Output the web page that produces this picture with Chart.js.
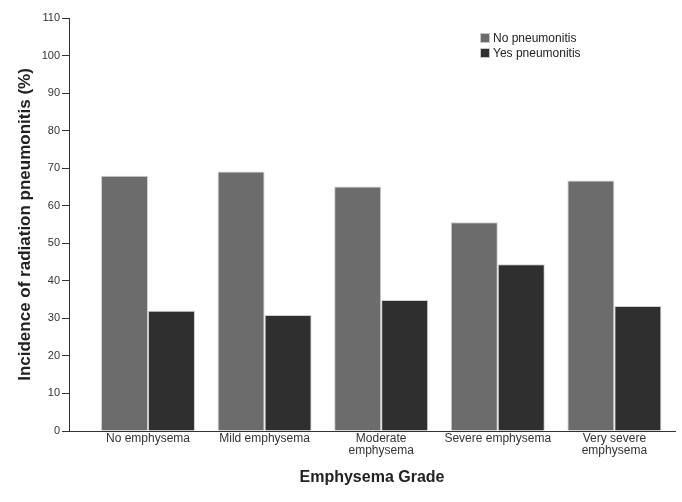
<!DOCTYPE html>
<html>
<head>
<meta charset="utf-8">
<script src="https://cdn.jsdelivr.net/npm/chart.js@4/dist/chart.umd.min.js"></script>
<style>
html,body{margin:0;padding:0;background:#fff;}
#wrap{width:682px;height:502px;}
</style>
</head>
<body>
<div id="wrap"><canvas id="c" width="682" height="502"></canvas></div>
<script>
const categories = ["No emphysema", "Mild emphysema", ["Moderate", "emphysema"], "Severe emphysema", ["Very severe", "emphysema"]];
const noPneumonitis = [68.0, 69.1, 65.1, 55.6, 66.7];
const yesPneumonitis = [32.0, 30.9, 34.9, 44.4, 33.3];
const yTicks = [0, 10, 20, 30, 40, 50, 60, 70, 80, 90, 100, 110];

const FONT = "'Liberation Sans', Arial, sans-serif";

const legendPlugin = {
  id: 'fixedLegend',
  afterDraw(chart) {
    const ctx = chart.ctx;
    ctx.save();
    ctx.font = '12px ' + FONT;
    ctx.textBaseline = 'middle';
    chart.data.datasets.forEach((ds, i) => {
      const x = 480, y = 33 + i * 15;
      ctx.fillStyle = ds.backgroundColor;
      ctx.fillRect(x, y, 10, 10);
      ctx.strokeStyle = '#c8c8c8';
      ctx.lineWidth = 1;
      ctx.strokeRect(x + 0.5, y + 0.5, 9, 9);
      ctx.fillStyle = '#222';
      ctx.fillText(ds.label, x + 13, y + 5.5);
    });
    ctx.restore();
  }
};

new Chart(document.getElementById('c'), {
  type: 'bar',
  data: {
    datasets: [
      {
        label: 'No pneumonitis',
        data: noPneumonitis.map((v, i) => ({x: i, y: v})),
        backgroundColor: '#6c6c6c',
        borderColor: '#cfcfcf',
        borderWidth: 1,
        categoryPercentage: 0.806,
        barPercentage: 1.0
      },
      {
        label: 'Yes pneumonitis',
        data: yesPneumonitis.map((v, i) => ({x: i, y: v})),
        backgroundColor: '#2f2f2f',
        borderColor: '#cfcfcf',
        borderWidth: 1,
        categoryPercentage: 0.806,
        barPercentage: 1.0
      }
    ]
  },
  options: {
    responsive: false,
    animation: false,
    layout: {padding: {top: 18, right: 7, left: 0, bottom: 0}},
    plugins: {legend: {display: false}, tooltip: {enabled: false}},
    scales: {
      x: {
        type: 'linear',
        offset: false,
        min: -0.6775,
        max: 4.52,
        afterBuildTicks(scale) {
          scale.ticks = categories.map((c, i) => ({value: i}));
        },
        afterFit(scale) { scale.height = 71; },
        grid: {display: false, drawTicks: false, offset: false},
        border: {display: true, color: '#333', width: 1},
        ticks: {
          color: '#333',
          font: {family: FONT, size: 12, lineHeight: 1.0},
          padding: 2,
          maxRotation: 0,
          autoSkip: false,
          callback: (v) => categories[v]
        },
        title: {
          display: true,
          text: 'Emphysema Grade',
          color: '#222',
          font: {family: FONT, size: 16, weight: 'bold'},
          padding: {top: 4, bottom: 15}
        }
      },
      y: {
        min: 0,
        max: 110,
        afterBuildTicks(scale) {
          scale.ticks = yTicks.map(v => ({value: v}));
        },
        afterFit(scale) { scale.width = 69; },
        grid: {display: true, drawOnChartArea: false, drawTicks: true, tickLength: 7, color: '#333'},
        border: {display: true, color: '#333', width: 1},
        ticks: {
          color: '#333',
          font: {family: FONT, size: 11},
          padding: 2
        },
        title: {
          display: true,
          text: 'Incidence of radiation pneumonitis (%)',
          color: '#222',
          font: {family: FONT, size: 17, weight: 'bold'},
          padding: {top: 15, bottom: 4}
        }
      }
    }
  },
  plugins: [legendPlugin]
});
</script>
</body>
</html>
